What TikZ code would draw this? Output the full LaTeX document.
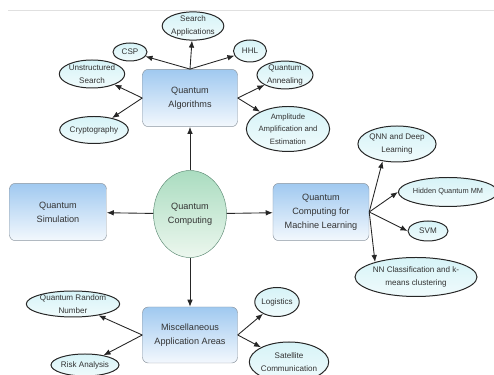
\documentclass[tikz,border=0pt]{standalone}
\usepackage{fontspec}
\setmainfont{Liberation Sans}
\usepackage{xcolor}
\usetikzlibrary{arrows.meta,shapes.geometric}

\definecolor{txtgray}{RGB}{51,51,51}
\definecolor{boxtop}{RGB}{160,201,240}
\definecolor{boxbot}{RGB}{243,248,253}
\definecolor{boxline}{RGB}{140,150,160}
\definecolor{hubtop}{RGB}{170,220,192}
\definecolor{hubbot}{RGB}{236,247,238}
\definecolor{hubline}{RGB}{95,140,118}
\definecolor{leaftop}{RGB}{214,243,247}
\definecolor{leafbot}{RGB}{240,251,252}

\begin{document}
\begin{tikzpicture}[
        x=0.03cm, y=-0.03cm,
        text=txtgray,
        area/.style={draw=boxline, rounded corners=5pt, top color=boxtop, bottom color=boxbot,
            align=center, inner sep=0pt, minimum width=2.85cm, minimum height=1.72cm,
            font=\fontsize{7.8}{11.8}\selectfont},
        hub/.style={ellipse, draw=hubline, top color=hubtop, bottom color=hubbot,
            align=center, inner sep=0pt, minimum width=2.19cm, minimum height=2.61cm,
            font=\fontsize{7.8}{11.8}\selectfont},
        leaf/.style={ellipse, draw=black!85, line width=0.85pt, top color=leaftop, bottom color=leafbot,
            align=center, inner sep=0pt, font=\fontsize{6.9}{10.6}\selectfont},
        arr/.style={-{Latex[length=6pt,width=4.8pt]}, draw=black!85, line width=0.75pt}
    ]
        \clip (0,0) rectangle (494,375);
        \draw[black!12, line width=0.6pt] (8,10) -- (494,10);

        % main areas
        \node[hub] (qc) at (190,214) {Quantum\\Computing};
        \node[area] (qa) at (190,98) {Quantum\\Algorithms};
        \node[area, minimum width=2.91cm] (qs) at (58,212) {Quantum\\Simulation};
        \node[area, minimum width=2.88cm] (qcml) at (321,212) {Quantum\\Computing for\\Machine Learning};
        \node[area, minimum height=1.68cm] (misc) at (190,335) {Miscellaneous\\Application Areas};

        % algorithms
        \node[leaf, minimum width=1.83cm, minimum height=0.78cm] (srch) at (193,26) {Search\\Applications};
        \node[leaf, minimum width=1.02cm, minimum height=0.54cm] (csp) at (130,52) {CSP};
        \node[leaf, minimum width=0.99cm, minimum height=0.66cm] (hhl) at (250,51) {HHL};
        \node[leaf, minimum width=1.65cm, minimum height=0.84cm] (unst) at (92,74) {Unstructured\\Search};
        \node[leaf, minimum width=1.74cm, minimum height=0.81cm] (crypt) at (94,130) {Cryptography};
        \node[leaf, minimum width=1.68cm, minimum height=0.81cm] (anneal) at (285,75) {Quantum\\Annealing};
        \node[leaf, minimum width=1.86cm, minimum height=1.35cm, font=\fontsize{6.6}{10.8}\selectfont] (ampl) at (288,129) {Amplitude\\Amplification and\\Estimation};

        % machine learning
        \node[leaf, minimum width=2.19cm, minimum height=1.08cm] (qnn) at (397,144) {QNN and Deep\\Learning};
        \node[leaf, minimum width=2.49cm, minimum height=0.87cm, font=\fontsize{6.3}{8}\selectfont] (hqmm) at (448,192) {Hidden Quantum MM};
        \node[leaf, minimum width=1.2cm, minimum height=0.6cm] (svm) at (428,231) {SVM};
        \node[leaf, minimum width=2.88cm, minimum height=1.17cm] (nncl) at (416,277) {NN Classification and k-\\means clustering};

        % miscellaneous
        \node[leaf, minimum width=2.43cm, minimum height=0.78cm] (qrn) at (73,304) {Quantum Random\\Number};
        \node[leaf, minimum width=1.68cm, minimum height=0.66cm] (risk) at (85,365) {Risk Analysis};
        \node[leaf, minimum width=1.2cm, minimum height=0.87cm] (logi) at (277,302) {Logistics};
        \node[leaf, minimum width=1.92cm, minimum height=1.2cm] (sat) at (289,362) {Satellite\\Communication};

        \draw[arr] (qc) -- (qa);
        \draw[arr] (qc) -- (qs);
        \draw[arr] (qc) -- (qcml);
        \draw[arr] (qc) -- (misc);

        \draw[arr] (qa.north) -- (srch);
        \draw[arr] (qa.north) -- (csp);
        \draw[arr] (qa.north) -- (hhl);
        \draw[arr] (qa.west) -- (unst);
        \draw[arr] (qa.west) -- (crypt);
        \draw[arr] (qa.east) -- (anneal);
        \draw[arr] (qa.east) -- (ampl);

        \draw[arr] (qcml.east) -- (qnn.230);
        \draw[arr] (qcml.east) -- (hqmm.west);
        \draw[arr] (qcml.east) -- (svm.west);
        \draw[arr] (qcml.east) -- (nncl.160);

        \draw[arr] (misc.west) -- (qrn);
        \draw[arr] (misc.west) -- (risk);
        \draw[arr] (misc.east) -- (logi);
        \draw[arr] (misc.east) -- (sat);
    \end{tikzpicture}
\end{document}
